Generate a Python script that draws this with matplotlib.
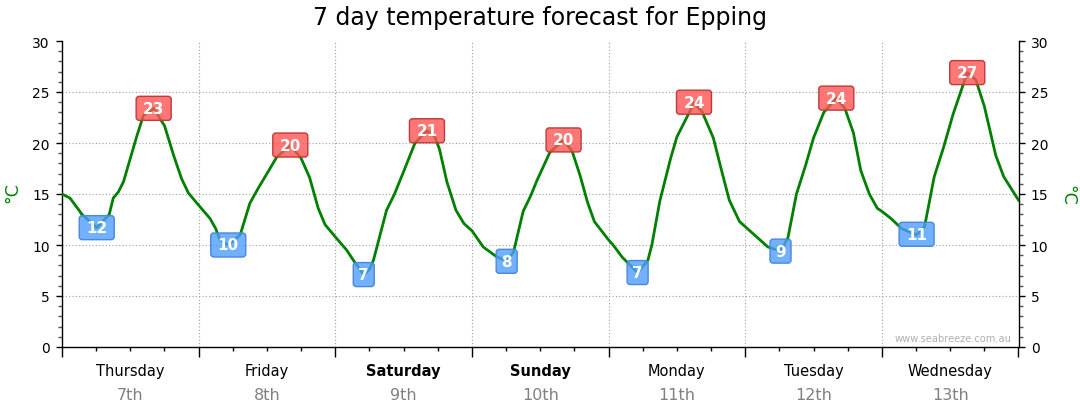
import matplotlib
matplotlib.use('Agg')
import matplotlib.pyplot as plt
from matplotlib.patches import FancyBboxPatch
from matplotlib.ticker import MultipleLocator
from matplotlib.transforms import blended_transform_factory

plt.rcParams['font.family'] = ['DejaVu Sans']

# hours since midnight Thursday, temperature in deg C
hours = [0, 1.4, 3.0, 3.5, 6.1, 8.3, 9.0, 9.9, 10.8, 12.0, 13.1, 14.3, 16.1, 17.2, 18.0, 19.6, 21.0, 22.2,
         24.0, 26.0, 27.0, 27.75, 29.2, 31.3, 33.0, 34.5, 36.0, 37.7, 40.1, 42.0, 43.5, 45.0, 46.2,
         48.0, 50.0, 51.3, 53.0, 54.0, 54.7, 57.0, 58.4, 60.0, 62.0, 64.1, 65.4, 66.3, 67.6, 69.2, 70.6,
         72.0, 74.0, 76.2, 78.1, 79.3, 81.0, 82.3, 83.4, 85.7, 88.1, 89.6, 91.0, 92.3, 93.5,
         96.0, 96.8, 98.4, 101.1, 102.9, 103.6, 105.0, 106.9, 108.0, 111.0, 112.4, 114.4, 115.8, 117.2, 119.0,
         120.0, 122.0, 124.0, 126.2, 127.5, 129.0, 130.6, 132.0, 133.8, 136.0, 137.5, 139.0, 140.3, 141.8, 143.2,
         144.0, 145.6, 147.5, 150.1, 151.5, 153.2, 154.8, 156.5, 159.0, 160.5, 162.0, 164.0, 165.4, 168.0]
temps = [15.0, 14.6, 13.4, 13.0, 11.7, 13.0, 14.6, 15.2, 16.2, 18.5, 20.6, 22.7, 23.4, 22.4, 21.7, 18.8, 16.5, 15.1,
         13.9, 12.6, 11.6, 10.5, 10.0, 11.0, 14.1, 15.6, 17.0, 18.6, 19.8, 18.5, 16.6, 13.6, 12.0,
         10.8, 9.5, 8.4, 7.1, 7.6, 8.5, 13.4, 15.0, 17.2, 20.0, 21.2, 20.7, 19.4, 16.2, 13.4, 12.1,
         11.4, 9.8, 8.9, 8.4, 9.3, 13.3, 14.8, 16.3, 19.1, 20.3, 19.2, 16.8, 14.2, 12.3,
         10.5, 10.0, 8.8, 7.3, 8.5, 10.0, 14.3, 18.5, 20.6, 23.9, 23.1, 20.5, 17.4, 14.4, 12.3,
         11.8, 10.8, 9.8, 9.4, 10.7, 15.0, 17.8, 20.5, 23.0, 24.4, 23.4, 21.0, 17.3, 15.0, 13.6,
         13.3, 12.6, 11.6, 11.0, 11.8, 16.7, 19.5, 22.8, 26.9, 26.2, 23.6, 18.8, 16.7, 14.4]

# daily min / max markers
ext_hours = [6.1, 16.1, 29.2, 40.1, 53.0, 64.1, 78.1, 88.1, 101.1, 111.0, 126.2, 136.0, 150.1, 159.0]
ext_temps = [11.7, 23.4, 10.0, 19.8, 7.1, 21.2, 8.4, 20.3, 7.3, 24.0, 9.4, 24.4, 11.05, 26.9]
ext_kind = ['min', 'max'] * 7

day_names = ['Thursday', 'Friday', 'Saturday', 'Sunday', 'Monday', 'Tuesday', 'Wednesday']
day_dates = ['7th', '8th', '9th', '10th', '11th', '12th', '13th']
weekend = ['Saturday', 'Sunday']

fig = plt.figure(figsize=(10.8, 4.14), dpi=100)
ax = fig.add_axes([62 / 1080, 66 / 414, 956.5 / 1080, 306 / 414])

ax.plot(hours, temps, color='#008000', lw=2.0, solid_joinstyle='round', zorder=3)

ax.set_xlim(0, 168)
ax.set_ylim(0, 30)

# grid
for gx in range(24, 168, 24):
    ax.axvline(gx, color='#a0a0a0', lw=0.8, ls=(0, (1, 2)), zorder=1)
for gy in range(5, 30, 5):
    ax.axhline(gy, color='#a0a0a0', lw=0.8, ls=(0, (1, 2)), zorder=1)

ax.spines['top'].set_visible(False)
for s in ['left', 'right', 'bottom']:
    ax.spines[s].set_linewidth(1.0)

ax.xaxis.set_major_locator(MultipleLocator(24))
ax.xaxis.set_minor_locator(MultipleLocator(6))
ax.yaxis.set_major_locator(MultipleLocator(5))
ax.yaxis.set_minor_locator(MultipleLocator(1))
ax.tick_params(axis='x', which='major', length=7.2, width=1, labelbottom=False)
ax.tick_params(axis='x', which='minor', length=3, width=1)
ax.tick_params(axis='y', which='major', length=4.3, width=1, labelsize=10,
               right=True, labelright=True, pad=4.5)
ax.tick_params(axis='y', which='minor', length=3, width=1, right=True, color='#555555')

# day labels under the axis
trans = blended_transform_factory(ax.transData, ax.transAxes)
for i, (name, date) in enumerate(zip(day_names, day_dates)):
    xc = 12 + 24 * i
    ax.text(xc, -0.078, name, transform=trans, ha='center', va='center', fontsize=10.5,
            fontweight='bold' if name in weekend else 'normal', color='black')
    ax.text(xc, -0.154, date, transform=trans, ha='center', va='center', fontsize=11.5,
            color='#808080')

# min / max boxes
ax_w_px = fig.get_figwidth() * fig.dpi * ax.get_position().width
ax_h_px = fig.get_figheight() * fig.dpi * ax.get_position().height
h_per_px = 168 / ax_w_px
d_per_px = 30 / ax_h_px
for hx, tv, kind in zip(ext_hours, ext_temps, ext_kind):
    label = str(int(round(tv)))
    w = (21 if len(label) == 1 else 35) * h_per_px
    h = 24 * d_per_px
    if kind == 'max':
        fc, ec = (1.0, 0.33, 0.33, 0.8), '#c03a3a'
    else:
        fc, ec = (0.30, 0.62, 1.0, 0.8), '#4a88d8'
    box = FancyBboxPatch((hx - w / 2, tv - h / 2), w, h,
                         boxstyle='round,pad=0,rounding_size=%f' % (3 * h_per_px),
                         mutation_aspect=d_per_px / h_per_px,
                         facecolor=fc, edgecolor=ec, lw=1.0, zorder=4)
    ax.add_patch(box)
    ax.text(hx, tv, label, ha='center', va='center', color='white', fontsize=11,
            fontweight='bold', zorder=5)

ax.text(0.993, 0.03, 'www.seabreeze.com.au', transform=ax.transAxes, ha='right', va='center',
        fontsize=7.1, color='#b0b0b0')

fig.text(0.5, 1 - 18 / 414, '7 day temperature forecast for Epping', ha='center', va='center',
         fontsize=17)
fig.text(12 / 1080, 1 - 193 / 414, '°C', rotation=90, ha='center', va='center',
         fontsize=12.5, color='#008000')
fig.text(1067 / 1080, 1 - 195 / 414, '°C', rotation=270, ha='center', va='center',
         fontsize=12.5, color='#008000')

fig.savefig('out.png', dpi=100)
